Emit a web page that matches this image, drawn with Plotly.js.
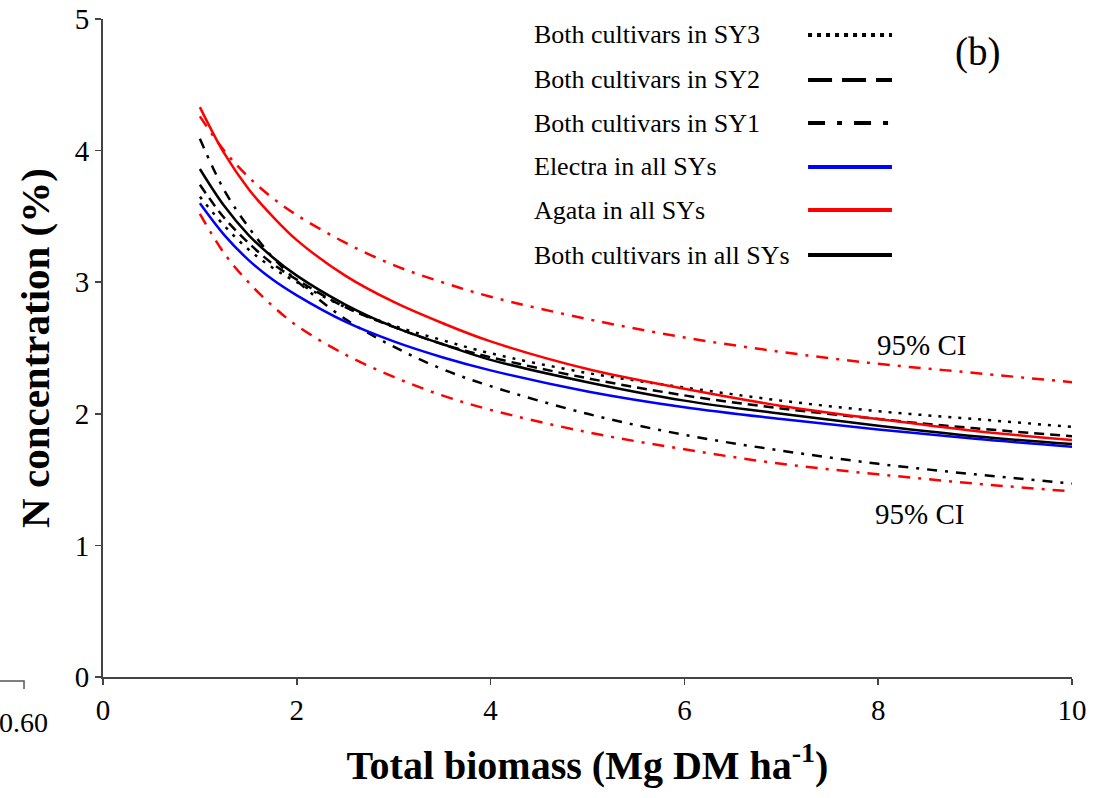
<!DOCTYPE html>
<html>
<head>
<meta charset="utf-8">
<script src="https://cdn.plot.ly/plotly-3.0.1.min.js"></script>
<style>html,body{margin:0;padding:0;background:#fff;}#chart{width:1102px;height:798px;}</style>
</head>
<body>
<div id="chart"></div>
<script>
// Total biomass (Mg DM ha-1)
const biomass = [1, 1.25, 1.5, 1.75, 2, 2.5, 3, 3.5, 4, 5, 6, 7, 8, 9, 10];
// N concentration (%)
const bothSY3   = [3.65, 3.43, 3.25, 3.11, 3.00, 2.81, 2.67, 2.56, 2.46, 2.31, 2.20, 2.10, 2.02, 1.96, 1.90];
const bothSY2   = [3.74, 3.49, 3.30, 3.14, 3.02, 2.81, 2.66, 2.53, 2.43, 2.27, 2.14, 2.04, 1.96, 1.89, 1.83];
const bothSY1   = [4.09, 3.70, 3.42, 3.19, 3.01, 2.72, 2.51, 2.34, 2.21, 2.00, 1.84, 1.72, 1.62, 1.54, 1.47];
const electra   = [3.60, 3.36, 3.17, 3.02, 2.90, 2.70, 2.55, 2.43, 2.33, 2.17, 2.05, 1.96, 1.88, 1.81, 1.75];
const agata     = [4.33, 3.98, 3.71, 3.50, 3.32, 3.05, 2.85, 2.69, 2.55, 2.34, 2.19, 2.06, 1.96, 1.87, 1.80];
const bothAll   = [3.86, 3.58, 3.36, 3.19, 3.05, 2.83, 2.66, 2.53, 2.41, 2.24, 2.10, 2.00, 1.91, 1.83, 1.77];
const ciUpper   = [4.26, 4.00, 3.80, 3.64, 3.51, 3.30, 3.13, 3.00, 2.89, 2.72, 2.58, 2.47, 2.38, 2.31, 2.24];
const ciLower   = [3.52, 3.22, 3.00, 2.82, 2.67, 2.45, 2.28, 2.14, 2.03, 1.86, 1.73, 1.62, 1.54, 1.47, 1.41];

const legendLabels = ["Both cultivars in SY3", "Both cultivars in SY2", "Both cultivars in SY1",
                      "Electra in all SYs", "Agata in all SYs", "Both cultivars in all SYs"];
const xTicks = [0, 2, 4, 6, 8, 10];
const yTicks = [0, 1, 2, 3, 4, 5];

const serif = "Liberation Serif";

function tr(y, color, dash, width) {
  return {x: biomass, y: y, type: 'scatter', mode: 'lines',
          line: {color: color, dash: dash, width: width, shape: 'spline'},
          showlegend: false, hoverinfo: 'skip'};
}

const data = [
  tr(ciUpper, '#ff0000', '12px,8px,3px,8px', 2.5),
  tr(ciLower, '#ff0000', '12px,8px,3px,8px', 2.5),
  tr(bothSY1, '#000000', '10px,8px,3px,8px', 2.5),
  tr(bothSY3, '#000000', '3px,7px', 2.5),
  tr(bothSY2, '#000000', '10px,6px', 2.5),
  tr(electra, '#0000ff', 'solid', 2.5),
  tr(bothAll, '#000000', 'solid', 2.5),
  tr(agata,   '#ff0000', 'solid', 2.5)
];

// legend (text left, sample right), paper coordinates
const rowY = [0.9757, 0.9073, 0.8419, 0.7751, 0.7097, 0.6413];
const sampleStyle = [
  {color: '#000', dash: '4px,5px'},
  {color: '#000', dash: '24px,10px'},
  {color: '#000', dash: '17px,12px,5px,12px'},
  {color: '#0000ff', dash: 'solid'},
  {color: '#ff0000', dash: 'solid'},
  {color: '#000', dash: 'solid'}
];
const shapes = [];
const annotations = [];
legendLabels.forEach((t, i) => {
  annotations.push({xref: 'paper', yref: 'paper', x: 0.4427, y: rowY[i], xanchor: 'left', yanchor: 'middle',
                    text: t, showarrow: false, font: {family: serif, size: 26, color: '#000'}});
  shapes.push({type: 'line', xref: 'paper', yref: 'paper', x0: 0.7276, x1: 0.8142, y0: rowY[i], y1: rowY[i],
               line: {color: sampleStyle[i].color, dash: sampleStyle[i].dash, width: 4}});
});
annotations.push({xref: 'x', yref: 'y', x: 8.45, y: 2.52, xanchor: 'center', yanchor: 'middle', text: '95% CI',
                  showarrow: false, font: {family: serif, size: 29, color: '#000'}});
annotations.push({xref: 'x', yref: 'y', x: 8.43, y: 1.24, xanchor: 'center', yanchor: 'middle', text: '95% CI',
                  showarrow: false, font: {family: serif, size: 29, color: '#000'}});
annotations.push({xref: 'paper', yref: 'paper', x: 0.902, y: 0.950, xanchor: 'center', yanchor: 'middle',
                  text: '(b)', showarrow: false, font: {family: serif, size: 39, color: '#000'}});
// stray fragment at lower left
annotations.push({xref: 'paper', yref: 'paper', x: -0.1094, y: -0.0684, xanchor: 'left', yanchor: 'middle',
                  text: '0.60', showarrow: false, font: {family: serif, size: 28, color: '#000'}});
shapes.push({type: 'path', xref: 'paper', yref: 'paper',
             path: 'M -0.1063,-0.0061 L -0.0815,-0.0061 L -0.0815,-0.0182',
             line: {color: '#555', width: 1.5}});

const layout = {
  width: 1102, height: 798,
  margin: {l: 103, r: 30, t: 19, b: 121},
  paper_bgcolor: '#fff', plot_bgcolor: '#fff',
  showlegend: false,
  xaxis: {range: [0, 10], tickvals: xTicks, ticktext: xTicks.map(String), showgrid: false, zeroline: false,
          showline: true, linecolor: '#444', linewidth: 2, ticks: 'outside', ticklen: 6, tickwidth: 1.5,
          tickcolor: '#444', tickfont: {family: serif, size: 29, color: '#000'},
          title: {text: '<b>Total biomass (Mg DM ha<sup>-1</sup>)</b>', standoff: 26,
                  font: {family: serif, size: 40, color: '#000'}}},
  yaxis: {range: [0, 5], tickvals: yTicks, ticktext: yTicks.map(String), showgrid: false, zeroline: false,
          showline: true, linecolor: '#444', linewidth: 2, ticks: 'outside', ticklen: 6, tickwidth: 1.5,
          tickcolor: '#444', tickfont: {family: serif, size: 29, color: '#000'},
          title: {text: '<b>N concentration (%)</b>', standoff: 12,
                  font: {family: serif, size: 41, color: '#000'}}},
  shapes: shapes,
  annotations: annotations
};

Plotly.newPlot('chart', data, layout, {displayModeBar: false, staticPlot: true});
</script>
</body>
</html>
